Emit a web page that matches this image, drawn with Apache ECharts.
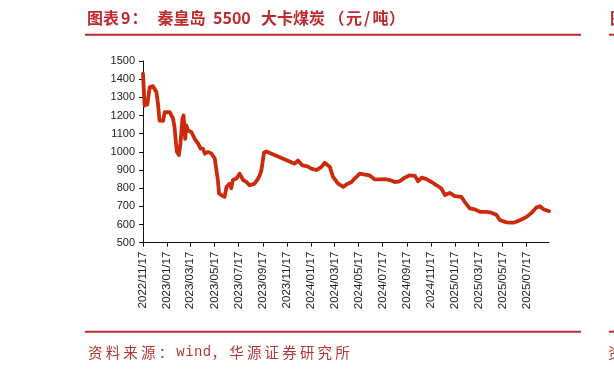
<!DOCTYPE html>
<html><head><meta charset="utf-8">
<script src="https://cdn.jsdelivr.net/npm/echarts@6/dist/echarts.min.js"></script>
<style>html,body{margin:0;padding:0;background:#fff}#c{width:614px;height:371px}</style>
</head><body><div id="c"></div>
<script>
// ---- data ----
const dates = [
 '2022-11-17','2022-11-21','2022-11-25','2022-11-28','2022-12-04','2022-12-12','2022-12-21','2022-12-25','2022-12-29',
 '2023-01-07','2023-01-11','2023-01-24','2023-01-28','2023-02-01','2023-02-05','2023-02-08','2023-02-11','2023-02-16',
 '2023-02-20','2023-02-25','2023-02-28','2023-03-04','2023-03-07','2023-03-11','2023-03-20','2023-03-28','2023-04-06',
 '2023-04-12','2023-04-18','2023-04-23','2023-05-01','2023-05-10','2023-05-18','2023-05-22','2023-05-26','2023-05-29',
 '2023-06-04','2023-06-08','2023-06-12','2023-06-17','2023-06-25','2023-06-29','2023-07-03','2023-07-12','2023-07-20',
 '2023-07-25','2023-07-29','2023-08-06','2023-08-15','2023-08-19','2023-08-27','2023-09-05','2023-09-09','2023-09-13',
 '2023-09-20','2023-09-26','2023-12-07','2023-12-15','2023-12-26','2024-01-08','2024-01-18','2024-01-31','2024-02-13',
 '2024-02-21','2024-03-05','2024-03-13','2024-03-26','2024-04-08','2024-04-16','2024-04-29','2024-05-07','2024-05-20',
 '2024-06-02','2024-06-14','2024-06-27','2024-07-10','2024-07-22','2024-08-04','2024-08-17','2024-08-29','2024-09-11',
 '2024-09-24','2024-10-07','2024-10-15','2024-10-24','2024-11-05','2024-11-18','2024-12-01','2024-12-13','2024-12-22',
 '2025-01-03','2025-01-16','2025-02-02','2025-02-10','2025-02-23','2025-03-08','2025-03-21','2025-04-07','2025-04-19',
 '2025-05-02','2025-05-10','2025-05-27','2025-06-13','2025-06-23','2025-07-04','2025-07-17','2025-07-30','2025-08-11',
 '2025-08-20','2025-08-30','2025-09-12'
];
const prices = [
 1430,1255,1280,1260,1355,1362,1330,1265,1172,
 1170,1218,1218,1200,1185,1136,1063,1000,982,
 1045,1182,1200,1072,1145,1118,1108,1072,1045,
 1018,1018,990,1000,990,963,955,844,771,
 762,771,752,807,825,800,845,853,880,
 870,845,835,816,807,825,853,871,895,
 995,1002,935,952,926,920,908,900,917,
 940,917,862,825,807,820,834,853,880,
 875,870,848,848,850,845,834,838,858,
 871,868,838,858,850,834,816,798,762,
 774,756,752,725,689,683,670,670,665,
 652,625,612,610,617,628,642,665,694,
 701,683,674
];
const tickLabels = [
 '2022/11/17','2023/01/17','2023/03/17','2023/05/17','2023/07/17','2023/09/17','2023/11/17','2024/01/17',
 '2024/03/17','2024/05/17','2024/07/17','2024/09/17','2024/11/17','2025/01/17','2025/03/17','2025/05/17','2025/07/17'
];
const yTicks = [500,600,700,800,900,1000,1100,1200,1300,1400,1500];
const sourceText = '资料来源：wind，华源证券研究所';

// ---- build ----
const DAY = 86400000;
function dayNum(s){const p=s.split(/[-\/]/).map(Number);return Date.UTC(p[0],p[1]-1,p[2])/DAY;}
const tickDays = tickLabels.map(dayNum);
const labelMap = {}; tickDays.forEach((t,i)=>labelMap[t]=tickLabels[i]);
const seriesData = dates.map((d,i)=>[dayNum(d),prices[i]]);

const RED = '#BE2A2E';
const graphics = [];
const titlePieces = [['图表',87],['9',121],['：',131.5],['秦皇岛',157.5],['5500',213],['大卡煤炭',261],['（',328.5],['元',346],['/',364],['吨',372.5],['）',389]];
titlePieces.forEach(([t,x])=>{
  graphics.push({type:'text',x:x,y:18,silent:true,
    style:{text:t,fill:RED,textVerticalAlign:'middle',font:'bold 16px "Noto Sans CJK SC", "Liberation Sans", sans-serif'}});
});
graphics.push({type:'text',x:610,y:18,silent:true,style:{text:'图',fill:RED,textVerticalAlign:'middle',font:'bold 16px "Noto Sans CJK SC"'}});
graphics.push({type:'rect',shape:{x:85,y:33.7,width:496,height:2},style:{fill:RED},silent:true});
graphics.push({type:'rect',shape:{x:609,y:33.7,width:10,height:2},style:{fill:RED},silent:true});
graphics.push({type:'rect',shape:{x:85,y:330.7,width:496,height:2},style:{fill:RED},silent:true});
graphics.push({type:'rect',shape:{x:609,y:330.7,width:10,height:2},style:{fill:RED},silent:true});
(function(){
  let x = 88; const unit = 8.83;
  for (const ch of sourceText) {
    const wide = ch.charCodeAt(0) > 255;
    graphics.push({type:'text',x:x,y:352,silent:true,
      style:{text:ch,fill:'#B83535',textVerticalAlign:'middle',
        font: wide ? '14.5px "Noto Sans CJK SC"' : '14px "Liberation Mono"'}});
    x += wide ? 2*unit : unit;
  }
  graphics.push({type:'text',x:608,y:352,silent:true,style:{text:'资',fill:'#B83535',textVerticalAlign:'middle',font:'14.5px "Noto Sans CJK SC"'}});
})();

const chart = echarts.init(document.getElementById('c'), null, {renderer:'canvas'});
chart.setOption({
  animation:false,
  backgroundColor:'#fff',
  grid:{left:143,right:65,top:61,bottom:128.3},
  xAxis:{
    type:'value',
    min: seriesData[0][0], max: seriesData[seriesData.length-1][0],
    splitLine:{show:false},
    axisLine:{lineStyle:{color:'#111',width:1}},
    axisTick:{show:true,length:4,inside:false,customValues:tickDays,lineStyle:{color:'#111'}},
    axisLabel:{customValues:tickDays,rotate:90,margin:9,fontSize:11.5,color:'#222',
      fontFamily:'"Liberation Sans", Arial, sans-serif',
      formatter:(v)=>labelMap[v] || ''}
  },
  yAxis:{
    type:'value',min:yTicks[0],max:yTicks[yTicks.length-1],interval:100,
    splitLine:{show:false},
    axisLine:{show:true,lineStyle:{color:'#111',width:1}},
    axisTick:{show:true,length:4,lineStyle:{color:'#111'}},
    axisLabel:{margin:8,fontSize:11,color:'#222',fontFamily:'"Liberation Sans", Arial, sans-serif',
      formatter:(v)=>String(v)}
  },
  series:[{
    type:'line',data:seriesData,showSymbol:false,symbol:'none',smooth:false,
    lineStyle:{color:'#CC2A0C',width:3.8,join:'round',cap:'round'}
  }],
  graphic:graphics
});
</script>
</body></html>
